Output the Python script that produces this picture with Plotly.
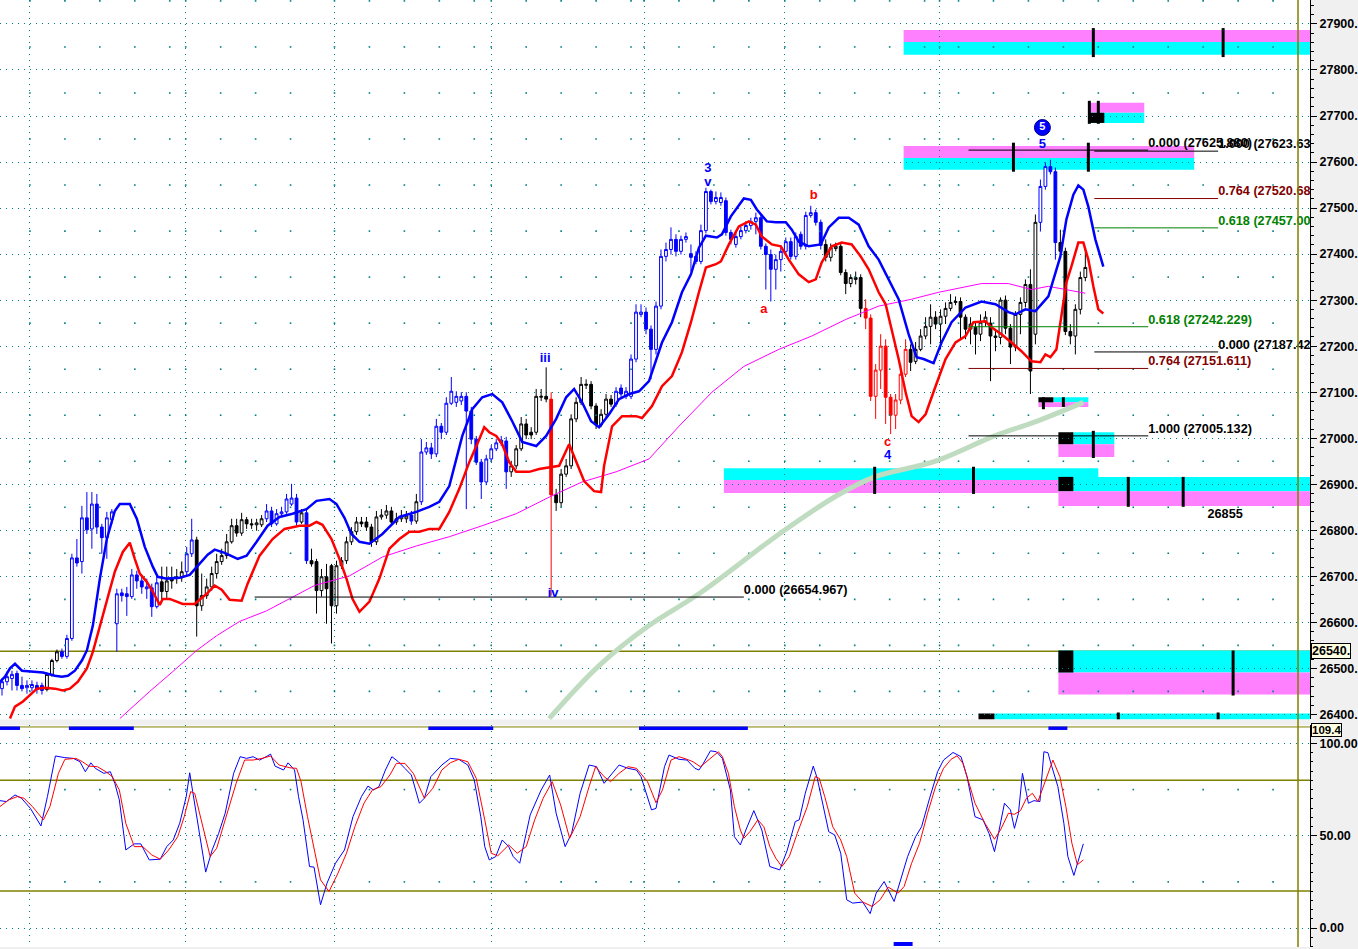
import plotly.graph_objects as go

# ---------------- price bars (one per session) ----------------
bars_open = [
26456,26471,26478,26489,26463,26458,26458,26463,26463,26454,
26487,26517,26536,26526,26565,26740,26732,26827,26803,26857,
26807,26784,26823,26597,26664,26662,26656,26703,26690,26673,
26675,26634,26688,26667,26697,26695,26697,26710,26749,26779,
26636,26658,26677,26706,26732,26745,26775,26810,26794,26823,
26814,26812,26812,26825,26842,26814,26836,26840,26857,26870,
26818,26838,26734,26732,26669,26699,26723,26636,26723,26734,
26775,26797,26818,26818,26807,26775,26829,26833,26842,26818,
26825,26825,26833,26820,26862,26970,26979,26966,27026,27013,
27076,27078,27081,27091,27059,26998,26948,26905,26955,26977,
26990,26994,26927,26940,26977,27031,27013,27013,27089,27091,
27085,26877,26860,26922,26940,27042,27078,27115,27117,27070,
27029,27052,27085,27074,27109,27091,27091,27172,27269,27274,
27237,27193,27287,27395,27410,27432,27406,27432,27401,27395,
27384,27451,27536,27514,27512,27516,27447,27421,27438,27451,
27462,27471,27479,27417,27399,27367,27388,27406,27427,27395,
27443,27417,27484,27490,27469,27421,27393,27412,27417,27360,
27336,27345,27349,27282,27261,27091,27148,27200,27089,27050,
27083,27139,27193,27167,27193,27222,27243,27263,27248,27265,
27282,27295,27297,27263,27237,27241,27226,27252,27250,27222,
27219,27300,27239,27198,27269,27295,27334,27226,27469,27547,
27590,27579,27425,27406,27232,27222,27280,27349]
bars_high = [
26478,26493,26495,26495,26482,26474,26474,26471,26469,26491,
26521,26541,26543,26573,26749,26781,26853,26883,26883,26879,
26814,26840,26846,26673,26673,26677,26716,26712,26699,26695,
26684,26699,26721,26721,26721,26716,26732,26764,26825,26786,
26706,26695,26721,26749,26760,26792,26825,26825,26838,26829,
26825,26825,26833,26857,26851,26846,26851,26879,26901,26879,
26846,26846,26760,26738,26716,26727,26727,26734,26742,26786,
26807,26829,26829,26829,26814,26842,26846,26855,26851,26838,
26844,26842,26842,26879,26998,26992,26990,27042,27033,27089,
27133,27102,27100,27100,27068,27005,26955,26964,26985,26998,
27005,27003,26951,26985,27046,27042,27024,27107,27107,27154,
27100,26890,26933,26955,27052,27089,27133,27128,27124,27076,
27063,27096,27094,27111,27117,27111,27182,27291,27291,27284,
27245,27297,27410,27425,27458,27443,27440,27447,27421,27406,
27464,27544,27540,27536,27534,27523,27453,27447,27460,27471,
27479,27490,27486,27423,27410,27399,27414,27436,27436,27447,
27449,27492,27505,27497,27475,27432,27423,27425,27423,27367,
27356,27362,27356,27302,27269,27161,27226,27215,27096,27096,
27161,27215,27204,27209,27237,27263,27291,27276,27280,27295,
27313,27308,27306,27269,27263,27254,27269,27276,27263,27237,
27306,27310,27248,27276,27306,27345,27367,27486,27562,27599,
27605,27588,27453,27414,27248,27291,27362,27410]
bars_low = [
26441,26463,26452,26452,26450,26445,26450,26445,26443,26450,
26482,26513,26521,26521,26560,26721,26706,26792,26760,26792,
26749,26738,26814,26536,26645,26614,26651,26673,26662,26651,
26612,26630,26647,26651,26673,26684,26688,26703,26742,26569,
26625,26651,26669,26695,26725,26738,26771,26786,26788,26803,
26803,26799,26807,26818,26807,26810,26829,26836,26853,26810,
26814,26727,26721,26619,26656,26597,26554,26619,26716,26727,
26768,26790,26807,26799,26764,26768,26823,26825,26812,26812,
26818,26816,26812,26814,26855,26964,26955,26959,26998,27007,
27072,27068,27072,26846,26987,26942,26868,26898,26948,26972,
26983,26890,26916,26933,26972,26998,26998,27007,27081,27078,
26658,26842,26851,26916,26933,27035,27072,27107,27063,27020,
27024,27046,27068,27068,27089,27085,27085,27165,27263,27226,
27128,27182,27280,27384,27399,27395,27399,27425,27362,27378,
27378,27445,27508,27508,27505,27440,27421,27414,27432,27445,
27453,27443,27410,27323,27297,27323,27362,27399,27388,27388,
27410,27410,27479,27462,27410,27384,27384,27406,27354,27313,
27328,27334,27263,27237,27081,27042,27107,27031,27009,27020,
27074,27133,27146,27161,27189,27215,27204,27237,27193,27248,
27276,27289,27215,27215,27204,27182,27211,27243,27124,27189,
27204,27226,27161,27189,27226,27284,27096,27204,27449,27540,
27573,27388,27397,27224,27204,27182,27269,27341]
bars_close = [
26471,26482,26487,26463,26456,26463,26465,26454,26452,26487,
26517,26536,26526,26565,26740,26729,26827,26801,26857,26807,
26784,26827,26840,26662,26658,26656,26703,26690,26677,26677,
26634,26686,26667,26690,26690,26699,26710,26749,26779,26636,
26658,26677,26706,26732,26745,26775,26810,26794,26823,26814,
26812,26816,26825,26842,26814,26836,26840,26868,26870,26818,
26838,26734,26727,26669,26699,26673,26636,26723,26734,26775,
26797,26818,26814,26807,26775,26829,26833,26842,26818,26825,
26831,26831,26820,26862,26970,26979,26966,27026,27013,27076,
27102,27091,27091,27059,26998,26948,26905,26955,26977,26990,
26996,26927,26940,26977,27031,27007,27007,27091,27091,27085,
26877,26860,26922,26940,27042,27078,27117,27117,27070,27029,
27052,27085,27074,27102,27096,27102,27172,27274,27274,27237,
27193,27287,27395,27410,27432,27406,27432,27438,27393,27384,
27451,27536,27514,27523,27523,27447,27432,27438,27451,27462,
27471,27479,27417,27399,27367,27388,27406,27427,27395,27438,
27417,27484,27490,27469,27419,27393,27414,27417,27360,27336,
27349,27349,27282,27261,27091,27148,27200,27089,27050,27083,
27139,27193,27165,27193,27222,27243,27263,27248,27265,27282,
27295,27297,27263,27237,27248,27226,27252,27263,27222,27219,
27300,27239,27198,27269,27295,27334,27146,27469,27547,27590,
27579,27425,27406,27232,27222,27280,27349,27371]
# bar colouring by wave state: B = impulse (blue), K = neutral (black), R = correction (red)
wave_runs = [("B",9),("K",3),("B",20),("K",5),("B",2),("K",14),("B",7),("K",1),("B",1),
             ("K",20),("B",1),("K",1),("B",18),("K",8),("R",1),("K",12),("B",42),("K",8),
             ("R",9),("K",26),("B",4),("K",6)]

# ---------------- overlays ----------------
upper_bar = [-0.4,0.6,1.6,2.6,4.0,5.6,8.2,10.6,12.0,13.2,14.6,16.0,17.0,18.2,19.6,21.0,22.6,23.6,25.6,27.0,
 28.6,30.2,31.2,33.0,35.6,37.6,39.6,41.2,42.6,44.6,47.2,49.0,51.0,53.2,55.6,58.2,61.0,63.0,65.6,67.0,
 68.6,70.0,71.6,73.6,76.2,79.6,83.0,85.6,87.6,89.6,92.2,94.2,96.2,98.2,100.2,102.2,104.2,107.0,109.0,111.0,
 113.0,114.6,116.2,118.0,119.6,121.6,123.6,125.6,127.6,129.6,132.2,134.2,136.2,138.0,139.6,141.0,143.2,144.2,146.0,148.6,
 150.0,151.2,153.2,155.0,157.0,158.2,159.6,161.6,164.0,165.6,167.6,169.6,171.6,173.6,175.6,177.6,179.6,181.6,183.2,184.6,
 186.6,188.2,190.2,193.0,196.2,199.0,201.6,203.0,205.0,207.0,209.6,212.0,213.2,214.6,215.6,216.6,217.6,219.0,220.6]
upper_price = [26471,26482,26500,26510,26495,26493,26491,26484,26482,26484,26495,26517,26539,26593,26695,26781,26842,26857,26857,26825,
 26764,26721,26699,26695,26697,26703,26727,26747,26758,26751,26738,26745,26775,26810,26829,26836,26846,26864,26868,26857,
 26827,26792,26775,26771,26792,26829,26840,26851,26862,26896,27005,27063,27089,27096,27078,27037,26992,26983,27005,27042,
 27089,27107,27078,27037,27024,27052,27085,27096,27102,27124,27208,27252,27317,27356,27414,27440,27436,27443,27482,27521,
 27518,27497,27471,27469,27469,27453,27427,27417,27421,27458,27479,27479,27464,27417,27388,27345,27302,27226,27176,27172,
 27163,27208,27252,27284,27297,27291,27274,27269,27280,27276,27308,27395,27475,27529,27549,27540,27503,27432,27373]
lower_bar = [1.6,2.6,4.2,6.0,7.0,8.6,10.6,12.2,13.6,15.2,17.0,18.2,19.6,21.0,22.6,24.2,25.6,26.6,27.6,29.0,
 30.2,31.6,32.2,33.6,36.2,38.6,41.0,42.6,44.0,45.6,48.0,49.2,51.6,54.2,56.6,59.6,61.6,63.0,64.2,66.0,
 67.6,69.0,70.2,71.6,73.6,75.6,77.6,79.6,81.6,83.6,85.6,87.6,89.6,91.6,93.6,95.6,96.6,97.6,99.0,100.2,
 101.6,103.0,105.6,107.6,110.2,111.6,113.6,115.0,116.6,118.6,120.0,120.6,122.2,124.2,127.0,128.2,130.2,132.2,134.2,136.2,
 138.0,139.6,141.0,143.0,144.0,145.6,147.6,149.6,151.0,152.2,154.2,156.0,157.6,159.6,161.6,163.0,164.2,166.2,168.2,170.2,
 172.0,173.6,175.6,177.0,178.2,179.6,181.0,182.2,183.6,185.0,187.0,189.0,191.0,193.0,194.6,197.0,198.2,200.2,202.2,204.2,
 206.2,208.0,209.0,210.0,211.2,212.2,213.2,214.2,215.6,216.6,217.6,218.6,219.6,220.6]
lower_price = [26391,26417,26428,26445,26456,26458,26456,26452,26456,26471,26500,26536,26591,26651,26710,26753,26773,26738,26706,26688,
 26667,26638,26651,26651,26640,26640,26662,26680,26671,26649,26647,26684,26745,26781,26803,26810,26810,26818,26812,26781,
 26738,26695,26651,26623,26645,26695,26760,26781,26797,26797,26803,26803,26840,26890,26948,26998,27024,27013,27005,26987,
 26948,26927,26927,26933,26937,26940,26987,26948,26907,26885,26883,26940,27026,27048,27048,27044,27070,27113,27135,27187,
 27252,27317,27371,27378,27384,27421,27460,27471,27464,27438,27421,27417,27388,27356,27339,27345,27382,27417,27425,27421,
 27395,27367,27317,27291,27237,27172,27100,27048,27035,27052,27113,27172,27208,27222,27252,27254,27241,27226,27208,27189,
 27167,27165,27182,27176,27193,27265,27338,27373,27425,27425,27388,27330,27280,27271]
ma_bar = [23.6,29.6,34.2,39.0,43.0,47.6,53.0,57.6,62.6,69.6,76.2,83.0,89.6,96.2,103.0,109.6,116.2,123.0,129.6,135.6,
 142.2,148.6,155.6,162.2,169.0,175.6,182.2,187.6,196.2,201.6,206.2,209.6,217.0]
ma_price = [26391,26450,26493,26539,26571,26602,26625,26651,26680,26701,26742,26766,26786,26810,26836,26872,26905,26927,26955,27026,
 27100,27156,27193,27222,27258,27287,27302,27317,27336,27336,27323,27330,27315]
slow_ma_bar = [109.6,119.6,129.6,139.6,156.6,167.2,174.8,187.0,198.8,206.8,216.6]
slow_ma_price = [26391,26506,26593,26662,26799,26875,26916,26950,27005,27035,27078]

# Fibonacci projections
fib0_label, fib0_price, fib0_span = "0.000", 26654.967, (50.6, 148.6)
fib1_labels = ["0.000", "0.618", "0.764", "1.000"]
fib1_prices = [27625.880, 27242.229, 27151.611, 27005.132]
fib1_span = (193.6, 229.6)
fib2_labels = ["1.000", "0.764", "0.618", "0.000"]
fib2_prices = [27623.633, 27520.688, 27457.004, 27187.422]
fib2_span = (218.8, 243.6)

# Elliott wave labels
wave_text = ["3", "v", "b", "a", "iii", "iv", "c", "4", "5"]
wave_bar = [141.4, 141.4, 162.6, 152.6, 108.8, 110.4, 177.4, 177.4, 208.4]
wave_price = [27586, 27555, 27527, 27280, 27172, 26662, 26990, 26961, 27638]
wave_kind = ["B", "B", "R", "R", "B", "B", "R", "B", "B"]
circled_bar, circled_price, circled_text = 208.4, 27675, "5"

# target zones (cyan / magenta bands) and markers
zone_kind = ["m","c","m","c","m","c","c","m","c","m","c","m","c","m","c","m","c"]
zone_b0 = [180.6,180.6,217.6,217.6,180.6,180.6,210.6,207.6,214.6,211.6,144.6,144.6,211.6,211.6,211.6,211.6,198.8]
zone_b1 = [262.4,262.4,228.8,228.8,238.8,238.8,217.6,217.6,222.8,222.8,219.6,211.6,262.4,262.4,262.4,262.4,262.4]
zone_lo = [27861,27833,27707,27685,27609,27583,27078,27068,26987,26959,26909,26881,26885,26853,26491,26443,26389]
zone_hi = [27887,27861,27729,27707,27635,27609,27089,27078,27013,26987,26935,26909,26916,26885,26539,26491,26402]
block_b0 = [217.6, 207.6, 211.6, 211.6, 211.6, 195.6]
block_b1 = [220.8, 210.6, 214.6, 214.6, 214.6, 198.8]
block_lo = [27685, 27078, 26987, 26885, 26491, 26389]
block_hi = [27707, 27089, 27013, 26916, 26539, 26402]
tick_bar = [218.6, 244.6, 217.8, 219.6, 202.6, 217.6, 208.6, 212.6, 218.6, 174.8, 194.6, 225.6, 236.6, 246.6, 223.6, 243.6]
tick_lo = [27828, 27828, 27683, 27683, 27579, 27579, 27063, 27068, 26957, 26879, 26879, 26851, 26851, 26441, 26389, 26389]
tick_hi = [27891, 27891, 27733, 27733, 27642, 27642, 27089, 27089, 27016, 26938, 26938, 26916, 26916, 26539, 26404, 26404]
zone_note_text, zone_note_bar, zone_note_price = "26855", 245.0, 26833
ref_level = 26537

# stochastic oscillator
stoch_k_bar = [-0.4,0.9,2.6,3.9,5.7,7.8,9.1,10.7,12.6,14.3,15.6,16.7,17.8,18.7,20.4,21.7,22.6,23.5,24.8,26.5,
 27.8,29.5,31.7,33.0,34.3,35.6,36.9,37.6,38.2,39.5,40.8,42.1,43.4,44.7,46.4,47.7,49.0,50.3,51.6,52.9,
 53.8,54.7,56.4,57.3,58.6,59.4,60.3,61.6,62.5,63.8,65.1,66.8,68.6,70.3,72.0,73.3,74.4,75.5,76.8,78.1,
 79.4,80.7,82.0,83.6,84.6,85.9,88.1,89.8,91.5,93.3,94.6,95.9,96.7,97.6,98.9,100.2,101.5,102.4,103.7,105.0,
 105.8,108.0,109.7,111.0,112.8,114.1,115.8,117.6,119.1,120.6,122.3,123.6,125.4,127.1,128.0,129.3,130.1,131.0,132.7,133.6,
 135.6,137.2,138.8,139.6,140.3,141.9,143.1,144.3,145.9,146.7,147.9,149.0,150.6,152.2,153.8,155.8,157.3,158.9,159.7,160.9,
 162.5,163.3,164.5,165.6,166.8,168.0,169.2,170.4,172.4,173.9,175.1,176.7,178.7,179.9,181.4,183.0,184.2,185.8,187.4,188.6,
 190.5,192.1,193.3,194.9,196.5,197.7,198.8,199.6,200.8,202.0,202.8,203.6,204.4,205.2,205.6,206.7,207.9,208.7,209.5,210.3,
 211.5,212.7,213.5,214.7,215.4,216.6]
stoch_k_val = [69.0,68.5,72.1,70.3,64.8,55.3,71.2,93.2,92.3,91.9,90.1,84.7,89.5,86.5,83.8,84.7,78.4,69.4,42.3,45.6,
 45.6,36.9,37.3,44.1,47.7,56.8,71.2,84.1,73.9,51.3,30.3,42.3,51.3,62.2,83.8,92.8,91.9,92.8,91.0,92.8,
 94.2,87.7,85.6,89.5,85.6,71.2,58.6,33.3,33.0,12.6,24.3,35.1,42.3,60.3,71.2,76.9,74.8,76.6,85.6,92.8,
 90.1,86.5,82.9,67.6,70.3,82.0,88.3,91.9,91.4,88.3,80.2,60.3,44.1,36.9,38.7,47.7,44.1,38.7,35.1,51.3,
 61.3,74.8,82.9,62.2,44.1,51.3,73.0,88.3,87.4,78.4,83.8,88.3,86.5,85.6,82.0,71.2,64.0,64.8,87.4,93.7,
 91.4,91.0,86.5,85.6,88.3,96.0,95.5,91.9,74.8,49.5,45.0,53.1,63.6,53.1,33.3,31.5,42.3,57.7,58.6,73.0,
 87.7,81.1,65.8,52.2,50.4,40.5,15.3,13.5,14.1,7.8,18.9,25.2,14.4,25.2,38.7,49.5,54.9,70.3,84.7,91.0,
 95.1,92.8,82.0,60.3,58.6,51.3,41.4,51.3,67.6,64.0,54.0,62.2,83.8,73.0,67.6,69.0,68.5,95.5,95.0,87.4,
 76.6,56.7,38.7,28.5,35.1,45.6]
stoch_d_bar = [-0.4,1.3,3.1,4.4,6.1,8.3,9.6,11.3,12.6,14.8,16.1,17.4,19.1,20.8,22.1,23.5,24.8,26.5,28.2,30.0,
 31.7,33.4,35.2,36.5,37.8,38.6,39.9,41.7,43.0,44.7,46.9,48.6,50.3,52.1,53.8,55.5,57.7,59.0,59.9,61.2,
 62.5,63.8,65.5,67.3,69.0,70.7,72.5,74.2,75.9,77.7,79.0,80.7,82.4,84.6,86.3,88.1,89.8,91.5,93.3,95.0,
 96.7,98.0,99.3,101.5,103.2,105.0,106.7,108.4,110.2,111.9,113.7,115.8,117.6,118.9,120.6,121.9,123.6,125.4,127.1,129.3,
 131.0,132.3,134.0,135.6,137.2,138.4,139.9,141.5,143.5,144.3,145.5,146.7,147.9,148.6,149.8,151.4,152.6,153.8,155.0,156.2,
 157.7,159.3,161.3,162.9,163.7,164.8,166.4,168.0,169.2,170.8,172.4,174.3,175.9,177.5,179.5,180.7,182.2,183.8,185.4,187.0,
 188.6,190.1,191.3,192.5,193.7,194.9,196.9,198.8,200.0,201.6,202.8,204.0,205.2,206.4,207.5,209.1,210.5,211.9,213.1,214.3,
 215.4,216.6]
stoch_d_val = [65.8,69.4,71.2,70.3,65.8,58.6,65.8,83.8,91.4,91.9,90.1,87.7,87.4,84.7,82.0,74.8,56.7,44.1,44.1,39.6,
 37.3,42.3,49.5,60.3,73.9,73.0,58.6,38.7,43.2,58.6,78.4,91.0,91.0,91.9,93.2,88.3,86.8,86.5,79.3,60.3,
 42.3,26.1,19.8,29.7,40.5,55.0,67.6,74.8,76.6,82.9,89.2,89.2,83.8,70.3,75.7,85.6,89.5,91.4,90.1,81.1,
 58.6,40.5,39.1,45.0,40.5,44.1,58.6,70.3,79.3,66.7,48.6,60.3,76.6,87.4,82.0,79.3,83.8,87.4,86.5,79.3,
 67.9,74.8,91.0,92.8,91.4,90.1,87.4,91.0,95.5,92.8,83.8,65.8,53.1,48.6,52.2,58.6,54.9,44.1,37.8,33.3,
 38.7,51.3,65.8,82.0,81.1,71.2,54.9,47.7,38.7,18.9,14.1,11.7,15.3,22.2,18.9,22.5,35.1,46.0,62.2,76.6,
 86.5,91.4,93.3,89.2,78.4,67.6,56.7,48.1,53.1,62.2,61.6,63.6,70.3,73.0,68.5,80.2,91.0,82.0,65.8,46.0,
 34.3,36.9]
signal_top_b0 = [-0.4, 13.4, 85.4, 127.6, 209.6]
signal_top_b1 = [3.6, 26.4, 98.4, 149.4, 213.4]
signal_bottom_b0 = [178.6]
signal_bottom_b1 = [182.4]
# time grid: week separators (dense dotted) and session separators (sparse dots)
date_grid_bars = [5.6, 36.8, 66.6, 98.0, 128.6, 156.8, 187.8]
session_grid_bars = [12.6, 19.6, 26.6, 33.6, 43.8, 50.8, 57.8, 73.6, 80.6, 87.6, 94.6, 105.0, 112.0, 119.0,
                     126.0, 135.6, 142.6, 149.6, 163.8, 170.8, 177.8, 184.8, 191.6, 198.6, 205.6, 212.6,
                     219.6, 226.6, 233.6, 240.6, 247.6, 254.6]
osc_levels = [20, 80]
price_ticks = list(range(26400, 27901, 100))
price_half_levels = list(range(26450, 27951, 100))
osc_ticks = [0, 50, 100]
osc_half_levels = [25, 75]

# ---------------- styling ----------------
W, H = 1358, 949
PLOT_R = 46
MAIN_BOTTOM_PX, OSC_TOP_PX = 721, 727
FONT = "Liberation Sans"
COL = {"B": "#0000ff", "K": "#000000", "R": "#ff0000"}
WAVE_COL = {"B": "#0000ff", "R": "#ff0000"}
FIB_COL = {"0.000": "#000000", "1.000": "#000000", "0.618": "#008000", "0.764": "#800000"}
OLIVE = "#808000"
GRID = "#008080"
CYAN, MAGENTA = "#00ffff", "#ff80ff"
XR = [-0.4, 262.0]

groups = []
for g, n in wave_runs:
    groups += [g] * n
idx = list(range(len(bars_close)))

fig = go.Figure()

# sparse session dots (drawn first, underneath everything)
for lv_list, xa, ya in [(price_half_levels, "x", "y"), (osc_half_levels, "x2", "y2")]:
    gx, gy = [], []
    for b in session_grid_bars + date_grid_bars:
        for lv in lv_list:
            gx.append(b)
            gy.append(lv)
    fig.add_trace(go.Scatter(x=gx, y=gy, mode="markers", xaxis=xa, yaxis=ya,
                             marker=dict(symbol="square", size=1.6, color=GRID, line=dict(width=0)),
                             hoverinfo="skip"))

for g in ["K", "B", "R"]:
    sel = [i for i in idx if groups[i] == g]
    c = COL[g]
    fig.add_trace(go.Candlestick(
        x=sel, open=[bars_open[i] for i in sel], high=[bars_high[i] for i in sel],
        low=[bars_low[i] for i in sel], close=[bars_close[i] for i in sel],
        increasing=dict(line=dict(color=c, width=1), fillcolor="white"),
        decreasing=dict(line=dict(color=c, width=1), fillcolor=c),
        whiskerwidth=0, showlegend=False, hoverinfo="skip", xaxis="x", yaxis="y"))

fig.add_trace(go.Scatter(x=ma_bar, y=ma_price, mode="lines", line=dict(color="#ff00ff", width=1), hoverinfo="skip"))
fig.add_trace(go.Scatter(x=slow_ma_bar, y=slow_ma_price, mode="lines", line=dict(color="#c0dcc0", width=5, shape="spline"), hoverinfo="skip"))
fig.add_trace(go.Scatter(x=upper_bar, y=upper_price, mode="lines", line=dict(color="#0000ff", width=2.5), hoverinfo="skip"))
fig.add_trace(go.Scatter(x=lower_bar, y=lower_price, mode="lines", line=dict(color="#ff0000", width=2.5), hoverinfo="skip"))

LABEL_SIZE = 12.7

# fib lines + labels
def fib_set(labels, prices, span):
    for lab, p in zip(labels, prices):
        col = FIB_COL[lab]
        fig.add_trace(go.Scatter(x=list(span), y=[p, p], mode="lines", line=dict(color=col, width=1), hoverinfo="skip"))
        fig.add_trace(go.Scatter(x=[span[1]], y=[p], mode="text", text=[f"{lab} ({p:.3f})"],
                                 textposition="top right", cliponaxis=True,
                                 textfont=dict(family=FONT, size=LABEL_SIZE, color=col, weight="bold"), hoverinfo="skip"))

fib_set([fib0_label], [fib0_price], fib0_span)
fib_set(fib1_labels, fib1_prices, fib1_span)
fib_set(fib2_labels, fib2_prices, fib2_span)

# wave labels
for kind in ["B", "R"]:
    ii = [i for i, k in enumerate(wave_kind) if k == kind]
    fig.add_trace(go.Scatter(x=[wave_bar[i] for i in ii], y=[wave_price[i] for i in ii], mode="text",
                             text=[wave_text[i] for i in ii], textposition="middle center",
                             textfont=dict(family=FONT, size=13, color=WAVE_COL[kind], weight="bold"), hoverinfo="skip"))
fig.add_trace(go.Scatter(x=[circled_bar], y=[circled_price], mode="markers+text", text=[circled_text],
                         textposition="middle center",
                         marker=dict(size=16, color="#0000ff", line=dict(color="#000080", width=1)),
                         textfont=dict(family=FONT, size=11, color="white", weight="bold"), hoverinfo="skip"))
fig.add_trace(go.Scatter(x=[zone_note_bar], y=[zone_note_price], mode="text", text=[zone_note_text],
                         textposition="middle center",
                         textfont=dict(family=FONT, size=LABEL_SIZE, color="black", weight="bold"), hoverinfo="skip"))

# oscillator
fig.add_trace(go.Scatter(x=stoch_k_bar, y=stoch_k_val, mode="lines", line=dict(color="#0000ff", width=1),
                         xaxis="x2", yaxis="y2", hoverinfo="skip"))
fig.add_trace(go.Scatter(x=stoch_d_bar, y=stoch_d_val, mode="lines", line=dict(color="#ff0000", width=1),
                         xaxis="x2", yaxis="y2", hoverinfo="skip"))

shapes = []
for k, b0, b1, lo, hi in zip(zone_kind, zone_b0, zone_b1, zone_lo, zone_hi):
    shapes.append(dict(type="rect", xref="x", yref="y", x0=b0, x1=b1, y0=lo, y1=hi,
                       fillcolor=CYAN if k == "c" else MAGENTA, line=dict(width=0), layer="below"))
for b0, b1, lo, hi in zip(block_b0, block_b1, block_lo, block_hi):
    shapes.append(dict(type="rect", xref="x", yref="y", x0=b0, x1=b1, y0=lo, y1=hi,
                       fillcolor="black", line=dict(width=0), layer="below"))
for b, lo, hi in zip(tick_bar, tick_lo, tick_hi):
    shapes.append(dict(type="line", xref="x", yref="y", x0=b, x1=b, y0=lo, y1=hi,
                       line=dict(color="black", width=3), layer="above"))
shapes.append(dict(type="line", xref="paper", yref="y", x0=0, x1=1, y0=ref_level, y1=ref_level,
                   line=dict(color=OLIVE, width=1.5), layer="below"))
for lv in osc_levels:
    shapes.append(dict(type="line", xref="paper", yref="y2", x0=0, x1=1, y0=lv, y1=lv,
                       line=dict(color=OLIVE, width=1.5), layer="below"))
shapes.append(dict(type="line", xref="x", yref="paper", x0=259.6, x1=259.6, y0=0, y1=1,
                   line=dict(color=OLIVE, width=1.5), layer="above"))
osc_top = 1 - OSC_TOP_PX / H
shapes.append(dict(type="line", xref="paper", yref="paper", x0=0, x1=1, y0=osc_top - 1.5 / H, y1=osc_top - 1.5 / H,
                   line=dict(color=OLIVE, width=1), layer="above"))
for b0, b1 in zip(signal_top_b0, signal_top_b1):
    shapes.append(dict(type="rect", xref="x", yref="paper", x0=b0, x1=b1, y0=osc_top - 4.5 / H, y1=osc_top - 1 / H,
                       fillcolor="#0000ff", line=dict(width=0), layer="above"))
for b0, b1 in zip(signal_bottom_b0, signal_bottom_b1):
    shapes.append(dict(type="rect", xref="x", yref="paper", x0=b0, x1=b1, y0=1.0 / H, y1=5.0 / H,
                       fillcolor="#0000ff", line=dict(width=0), layer="above"))

main_range = [26389, 27952]
osc_range = [-10.27, 109.73]

axis_font = dict(family=FONT, size=12.5, color="black", weight="bold")
xcommon = dict(range=XR, showticklabels=False, ticks="", tickvals=date_grid_bars, showgrid=True,
               gridcolor=GRID, griddash="1px,5px", gridwidth=1, zeroline=False, showline=False, fixedrange=True)

fig.update_layout(
    width=W, height=H, margin=dict(l=0, r=PLOT_R, t=0, b=0),
    paper_bgcolor="#f0f0f0", plot_bgcolor="white", showlegend=False, hovermode=False,
    boxgap=0.2,
    xaxis=dict(domain=[0, 1], anchor="y", rangeslider=dict(visible=False), **xcommon),
    xaxis2=dict(domain=[0, 1], anchor="y2", matches="x", **xcommon),
    yaxis=dict(domain=[1 - MAIN_BOTTOM_PX / H, 1], range=main_range, side="right", anchor="x",
               tickvals=price_ticks, ticktext=[f"{t}." for t in price_ticks],
               ticks="outside", ticklen=6, tickcolor="black", tickfont=axis_font,
               showline=True, linecolor="black", linewidth=1,
               showgrid=True, gridcolor=GRID, griddash="1px,5px", zeroline=False,
               minor=dict(dtick=20, ticklen=3, ticks="outside", tickcolor="black", showgrid=False)),
    yaxis2=dict(domain=[0, osc_top], range=osc_range, side="right", anchor="x2",
                tickvals=osc_ticks, ticktext=[f"{t:.2f}" for t in osc_ticks],
                ticks="outside", ticklen=6, tickcolor="black", tickfont=axis_font,
                showline=True, linecolor="black", linewidth=1,
                showgrid=True, gridcolor=GRID, griddash="1px,5px", zeroline=False,
                minor=dict(dtick=5, ticklen=2, ticks="outside", tickcolor="black", showgrid=False)),
    shapes=shapes,
    annotations=[
        dict(xref="paper", yref="y", x=1, y=ref_level, xanchor="left", yanchor="middle", xshift=1,
             text="26540.", showarrow=False, bgcolor="#ffffe1", bordercolor="black", borderwidth=1,
             borderpad=0, font=axis_font),
        dict(xref="paper", yref="y2", x=1, y=107.3, xanchor="left", yanchor="middle", xshift=1,
             text="109.4", showarrow=False, bgcolor="#ffffe1", bordercolor="black", borderwidth=1,
             borderpad=0, font=dict(family=FONT, size=11.5, color="black", weight="bold")),
    ],
)

fig.write_html("out.html", config={"displayModeBar": False},
               post_script="document.body.style.margin='0px';document.body.style.overflow='hidden';")
